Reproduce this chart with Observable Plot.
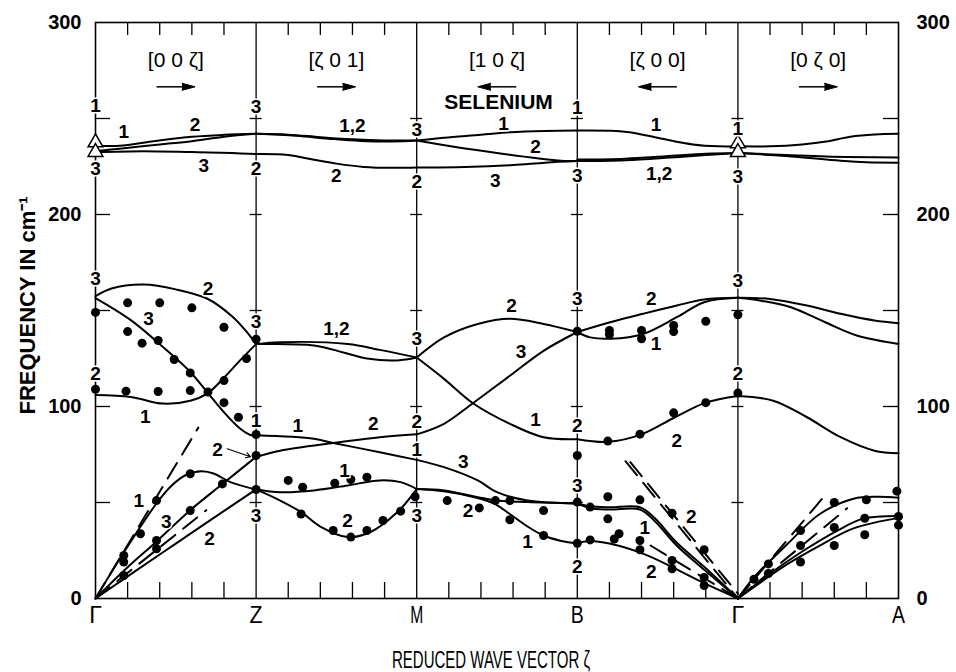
<!DOCTYPE html>
<html><head><meta charset="utf-8">
<script src="https://cdn.jsdelivr.net/npm/d3@7"></script>
<script src="https://cdn.jsdelivr.net/npm/@observablehq/plot@0.6"></script>
<style>
body{margin:0;background:#fff;}
#chart svg{display:block;}
</style></head>
<body><div id="chart"></div>
<script>
// ---- symmetry points along the path (x = 0..5) ----
const pointNames = ["Γ", "Z", "M", "B", "Γ", "A"];
const dirLabels = ["[0 0 ζ]", "[ζ 0 1]", "[1 0 ζ]", "[ζ 0 0]", "[0 ζ 0]"];
const dirSign = [1, 1, -1, -1, 1];
const freqLabels = [0, 100, 200, 300];
const freqTicks = [50, 100, 150, 200, 250];
const subTicks = [0.2, 0.4, 0.6, 0.8, 1.2, 1.4, 1.6, 1.8, 2.2, 2.4, 2.6, 2.8, 3.2, 3.4, 3.6, 3.8, 4.2, 4.4, 4.6, 4.8];
const yTitle = "FREQUENCY IN cm⁻¹";
const xTitle = "REDUCED WAVE VECTOR ζ";
const materialName = "SELENIUM";
const arrowLevel = 266.5;

// ---- calculated dispersion curves: [reduced position, frequency cm^-1] ----
const opticalHigh = [
  [[0,236],[0.15,235.8],[0.35,238],[0.6,240.5],[0.8,241.5],[1,242]],
  [[0,233],[0.15,234.3],[0.4,236.5],[0.6,238.2],[0.8,240.5],[1,242]],
  [[0,232.5],[0.3,233],[0.6,232.5],[0.85,232],[1,231.5]],
  [[1,242],[1.2,241.6],[1.4,240.3],[1.6,239.2],[1.8,238.6],[2,238.5]],
  [[1,242],[1.25,241],[1.45,239.5],[1.65,238.3],[1.85,238],[2,238.5]],
  [[1,231.5],[1.2,231],[1.36,228.5],[1.5,226.5],[1.67,224.8],[1.85,224.3],[2,224.5]],
  [[2,238.5],[2.17,240],[2.4,241.5],[2.58,242.8],[2.8,243.5],[3,243.7]],
  [[2,238.5],[2.25,235],[2.5,232],[2.75,229.3],[2.9,228],[3,227.8]],
  [[2,224.5],[2.3,224.8],[2.6,225.8],[2.8,227],[3,227.8]],
  [[3,243.7],[3.31,243],[3.52,239.6],[3.72,236.5],[3.88,235.5],[4,235.5]],
  [[3,227.8],[3.3,228.3],[3.55,229.5],[3.8,231],[4,232]],
  [[3,228.6],[3.3,229.1],[3.55,230.3],[3.8,231.6],[4,232]],
  [[4,235.5],[4.2,235.5],[4.4,236.5],[4.55,238],[4.7,240.5],[4.85,241.7],[5,242]],
  [[4,232],[4.3,231],[4.55,230.2],[5,229.7]],
  [[4,232],[4.3,230.5],[4.64,228],[4.8,227.2],[5,227]]
];
const opticalMid = [
  [[0,157.5],[0.1,161.5],[0.3,163.5],[0.5,161],[0.7,156],[0.85,147],[0.93,140],[1,132.5]],
  [[0,156.5],[0.22,145],[0.42,131],[0.59,118],[0.7,107],[0.8,97],[0.9,88.5],[0.96,85.3],[1,84.8]],
  [[0,106],[0.22,105],[0.42,101.5],[0.59,103],[0.7,107],[0.8,115],[0.9,124],[1,132.5]],
  [[1,132.5],[1.15,133.5],[1.57,132.6],[1.77,129.5],[2,125.5]],
  [[1,132.5],[1.36,131.8],[1.55,128],[1.69,125],[1.88,124],[2,125.5]],
  [[1,85],[1.36,83.2],[1.48,81],[1.77,76.2],[2,72.2]],
  [[1,73.8],[1.15,77],[1.48,81],[1.77,84],[2,85.5]],
  [[2,125.5],[2.17,136],[2.38,143],[2.58,145.7],[2.79,143],[3,138.8]],
  [[2,125.5],[2.17,114.4],[2.35,101.7],[2.58,91],[2.79,84],[3,83]],
  [[2,85.5],[2.17,91],[2.35,101.7],[2.58,116],[2.79,129],[3,138.8]],
  [[3,138.8],[3.21,144],[3.41,148.3],[3.62,152.6],[3.79,155.7],[4,156.6]],
  [[3,138.8],[3.08,136],[3.21,135.3],[3.41,137.8],[3.62,146.5],[3.79,154.3],[4,156.6]],
  [[3,83],[3.19,81.6],[3.4,85.5],[3.6,94],[3.8,102],[4,105.5]],
  [[4,156.6],[4.2,156],[4.43,152.6],[4.64,148.3],[4.85,144.8],[5,143.4]],
  [[4,156.6],[4.15,155],[4.33,151.7],[4.54,144],[4.74,137],[5,132.6]],
  [[4,105.5],[4.22,103],[4.43,94.4],[4.64,84],[4.85,77],[5,75.7]]
];
const acoustic = [
  [[0,0],[0.176,24],[0.384,50],[0.47,58.5],[0.56,64.2],[0.66,66.3],[0.74,65],[0.84,60.6],[1,56.8]],
  [[0,0],[0.19,15.5],[0.384,30],[0.59,46],[0.79,59.6],[1,73.8]],
  [[0,0],[0.25,14.4],[0.5,28.6],[0.75,42.8],[1,56.8]],
  [[1,56.8],[1.15,55.4],[1.36,56.3],[1.57,58.9],[1.77,61.5],[1.9,60.6],[2,57]],
  [[1,56.8],[1.15,51],[1.28,45],[1.4,37.5],[1.57,32],[1.71,34.5],[1.88,45],[2,57]],
  [[2,72.2],[2.17,68.4],[2.38,61.5],[2.5,55.4],[2.69,51],[3,49.5]],
  [[2,57],[2.17,56.3],[2.38,52.8],[2.5,51],[2.69,50.2],[3,49.5]],
  [[2,57],[2.17,55.8],[2.38,52.3],[2.48,49.5],[2.58,44],[2.69,37.5],[2.79,32.8],[2.9,30],[3,28.8]],
  [[3,49.5],[3.08,48],[3.2,47.5],[3.39,47.5],[3.48,42],[3.62,29],[3.79,16.5],[4,0]],
  [[3,49.5],[3.08,47],[3.2,46.3],[3.39,46.3],[3.48,40.5],[3.62,27.5],[3.79,15],[4,0]],
  [[3,28.8],[3.08,30],[3.2,28.6],[3.42,23],[3.6,16],[3.79,8],[4,0]],
  [[4,0],[4.1,11],[4.31,28.5],[4.51,44],[4.72,52],[4.87,53],[5,52.5]],
  [[4,0],[4.2,13],[4.41,25],[4.62,35.4],[4.78,41.6],[5,43]],
  [[4,0],[4.31,18],[4.51,27.6],[4.72,36.5],[5,42]]
];
// elastic-constant sound velocities (dashed)
const soundLines = [
  [[0,0],[0.64,89]],
  [[0,0],[0.69,46]],
  [[3.30,71.5],[4,0]],
  [[3.33,71],[4,2.5]],
  [[3.456,27.6],[4,0]],
  [[4,0],[4.53,52.5]],
  [[4,0],[4.68,47]]
];

// ---- neutron measurements ----
const neutronData = [
  [0,149],[0.2,154],[0.4,154],[0.6,151.4],[0.8,141.3],[1,135],
  [0.2,139],[0.29,133],[0.39,134.4],[0.49,124.5],[0.59,117.5],[0.7,107.5],[0.8,102],[0.89,94.4],[1,85.4],
  [0.94,125],[0.8,113.5],
  [0,109],[0.19,108],[0.39,107.8],[0.59,108.3],
  [1,74.5],[1,56.8],
  [0.59,65],[0.79,59.7],[0.38,51],[0.28,33.7],[0.176,22.4],[0.176,19],[0.176,12],[0.38,30.2],[0.38,25.9],[0.59,45.8],
  [1.2,61.5],[1.29,58],[1.49,60],[1.59,62],[1.69,63.2],
  [1.28,44],[1.48,35.4],[1.59,32],[1.69,35.4],[1.79,40.6],[1.9,45.5],[1.99,53],
  [2.19,51],[2.39,47.2],[2.49,51],[2.58,51],[2.58,41],[2.79,45.8],[2.79,32.8],
  [3,74.5],[3,50.2],[3,28.8],[3.08,47.6],[3.08,30.5],[3.19,53],[3.19,41.5],[3.23,31],[3.26,33.7],
  [3.39,51.4],[3.39,30.2],[3.39,25.4],[3.59,44.4],[3.59,19.8],[3.59,15.5],[3.79,25.4],[3.79,11],[3.79,6.8],
  [3.19,82],[3.39,85.6],[3.6,96.7],[3.8,102],[4,107],
  [3,139.2],[3.2,139.6],[3.2,137.5],[3.4,139.6],[3.4,135.3],[3.6,142.2],[3.6,139],[3.8,144.4],[4,147.8],
  [4.1,10],[4.19,18],[4.19,13],[4.39,35.4],[4.39,27.6],[4.39,19],[4.6,50],[4.6,37],[4.6,27.6],
  [4.8,51.4],[4.79,41.8],[4.79,33.2],[4.99,55.9],[5,42.7],[5,38.2]
];
// ---- Raman / infrared values at Γ ----
const opticalGamma = [[0,237.5],[0,232.5],[4,237],[4,232.5]];

// ---- branch labels [position, frequency, text] ----
const branchLabels = [
  [0,256.8,"1"],[0,223.8,"3"],[0.176,242.9,"1"],[0.62,246.9,"2"],[0.675,225.5,"3"],
  [1,256,"3"],[1,223.8,"2"],[1.6,246.4,"1,2"],[1.5,220,"2"],
  [2,244,"3"],[2,217,"2"],[2.54,247.2,"1"],[2.74,235.4,"2"],[2.49,217.7,"3"],
  [3,255.6,"1"],[3,220,"3"],[3.49,246.9,"1"],[3.51,221.2,"1,2"],
  [4,244.6,"1"],[4,219.4,"3"],
  [0,166.5,"3"],[0,117,"2"],[0.7,161.3,"2"],[0.33,145.7,"3"],[0.31,94.8,"1"],
  [1,143.9,"3"],[1,92.7,"1"],[1.5,140.5,"1,2"],[1.26,90,"1"],[1.73,91,"2"],
  [2,135,"3"],[2,91.8,"2"],[2,77.5,"1"],[2.59,152.6,"2"],[2.65,128.3,"3"],[2.74,93,"1"],
  [3,156,"3"],[3,90,"2"],[3.46,156,"2"],[3.49,132.6,"1"],[3.62,82.3,"2"],
  [4,165.6,"3"],[4,117,"2"],
  [0.76,77.6,"2"],[0.27,51,"1"],[0.44,39.7,"3"],[0.71,31,"2"],[1,43.2,"3"],
  [1.55,66.7,"1"],[1.57,40.6,"2"],[2,43,"3"],
  [2.29,71,"3"],[2.32,45.8,"2"],[2.69,29.3,"1"],[3,58.9,"3"],[3,16.3,"2"],
  [3.42,37,"1"],[3.71,42.3,"2"],[3.46,13.7,"2"]
];
const pointerArrow = [[0.82,78,0.965,73.8]];

// ---- build ----
const crosses = [];
for (const b of [1,2,3,4]) for (const f of freqTicks) crosses.push({x:b, f});
const lineOpts = {x: d => d[0], y: d => d[1], curve: "catmull-rom", stroke: "black", strokeWidth: 2};

const plot = Plot.plot({
  width: 956, height: 672,
  marginLeft: 95, marginRight: 58, marginTop: 22, marginBottom: 74,
  x: {domain: [0, 5]},
  y: {domain: [0, 300]},
  style: {fontFamily: "'Liberation Sans', Arial, sans-serif", fontSize: "19px", color: "black", background: "white"},
  marks: [
    Plot.frame({stroke: "black", strokeWidth: 1.6}),
    Plot.ruleX([1, 2, 3, 4], {stroke: "black", strokeWidth: 1.3}),
    Plot.ruleY(crosses, {x1: "x", x2: "x", y: "f", insetLeft: -6, insetRight: -6, strokeWidth: 1.3}),
    Plot.ruleY(freqTicks, {y: d => d, x1: 0, x2: 0, insetRight: -15, strokeWidth: 1.3}),
    Plot.ruleY(freqTicks, {y: d => d, x1: 5, x2: 5, insetLeft: -15, strokeWidth: 1.3}),
    Plot.ruleX(subTicks, {x: d => d, y1: 300, y2: 300, insetBottom: -13, strokeWidth: 1.3}),
    Plot.ruleX(subTicks, {x: d => d, y1: 0, y2: 0, insetTop: -16, strokeWidth: 1.3}),
    Plot.axisY({anchor: "left", ticks: freqLabels, tickSize: 0, tickPadding: 14, fontSize: 20, fontWeight: "bold", label: null}),
    Plot.axisY({anchor: "right", ticks: freqLabels, tickSize: 0, tickPadding: 18, fontSize: 20, fontWeight: "bold", label: null}),
    Plot.axisX({anchor: "bottom", ticks: [0,1,2,3,4,5], tickFormat: i => pointNames[i], tickSize: 0, tickPadding: 8, fontSize: 23, label: null}),
    ...opticalHigh.map(pts => Plot.line(pts, lineOpts)),
    ...opticalMid.map(pts => Plot.line(pts, lineOpts)),
    ...acoustic.map(pts => Plot.line(pts, lineOpts)),
    ...soundLines.map(pts => Plot.line(pts, {x: d => d[0], y: d => d[1], stroke: "black", strokeWidth: 2, strokeDasharray: "18,10"})),
    Plot.dot(neutronData, {x: d => d[0], y: d => d[1], r: 4.5, fill: "black"}),
    Plot.dot(opticalGamma, {x: d => d[0], y: d => d[1], symbol: "triangle", r: 5.5, fill: "white", stroke: "black", strokeWidth: 1.5}),
    Plot.text(branchLabels, {x: d => d[0], y: d => d[1], text: d => d[2], fontSize: 19, fontWeight: "bold", fill: "black", stroke: "white", strokeWidth: 3}),
    Plot.arrow(pointerArrow, {x1: d => d[0], y1: d => d[1], x2: d => d[2], y2: d => d[3], headLength: 7, strokeWidth: 1.1}),
    Plot.text(dirLabels, {x: (d, i) => i + 0.5, frameAnchor: "top", dy: 38, lineAnchor: "middle", fontSize: 21}),
    Plot.link(dirLabels, {x1: (d, i) => i + 0.5 - 0.12 * dirSign[i], x2: (d, i) => i + 0.5 + 0.05 * dirSign[i], y1: arrowLevel, y2: arrowLevel, stroke: "black", strokeWidth: 1.5}),
    Plot.vector(dirLabels, {x: (d, i) => i + 0.5 + 0.12 * dirSign[i], y: arrowLevel, rotate: (d, i) => dirSign[i] > 0 ? 90 : -90, length: 13, anchor: "end", shape: "spike", r: 3.5, fill: "black", stroke: "black", strokeWidth: 1}),
    Plot.text([materialName], {x: 2.51, y: 258.3, fontSize: 21, fontWeight: "bold"}),
    Plot.text([yTitle], {frameAnchor: "left", dx: -68, dy: -5, rotate: -90, textAnchor: "middle", lineAnchor: "middle", fontSize: 22, fontWeight: "bold"}),
    Plot.text([xTitle], {frameAnchor: "bottom", dx: -6, dy: 62, lineAnchor: "middle", textAnchor: "middle", fontSize: 23})
  ]
});
// condensed lettering for the wave-vector title and symmetry-point names
d3.select(plot).selectAll("text").each(function() {
  const t = this.textContent;
  if (t === xTitle) d3.select(this).attr("textLength", 198).attr("lengthAdjust", "spacingAndGlyphs");
  else if (["Z", "M", "B", "A"].includes(t)) d3.select(this).attr("textLength", 13).attr("lengthAdjust", "spacingAndGlyphs");
});
document.getElementById("chart").append(plot);
</script></body></html>
